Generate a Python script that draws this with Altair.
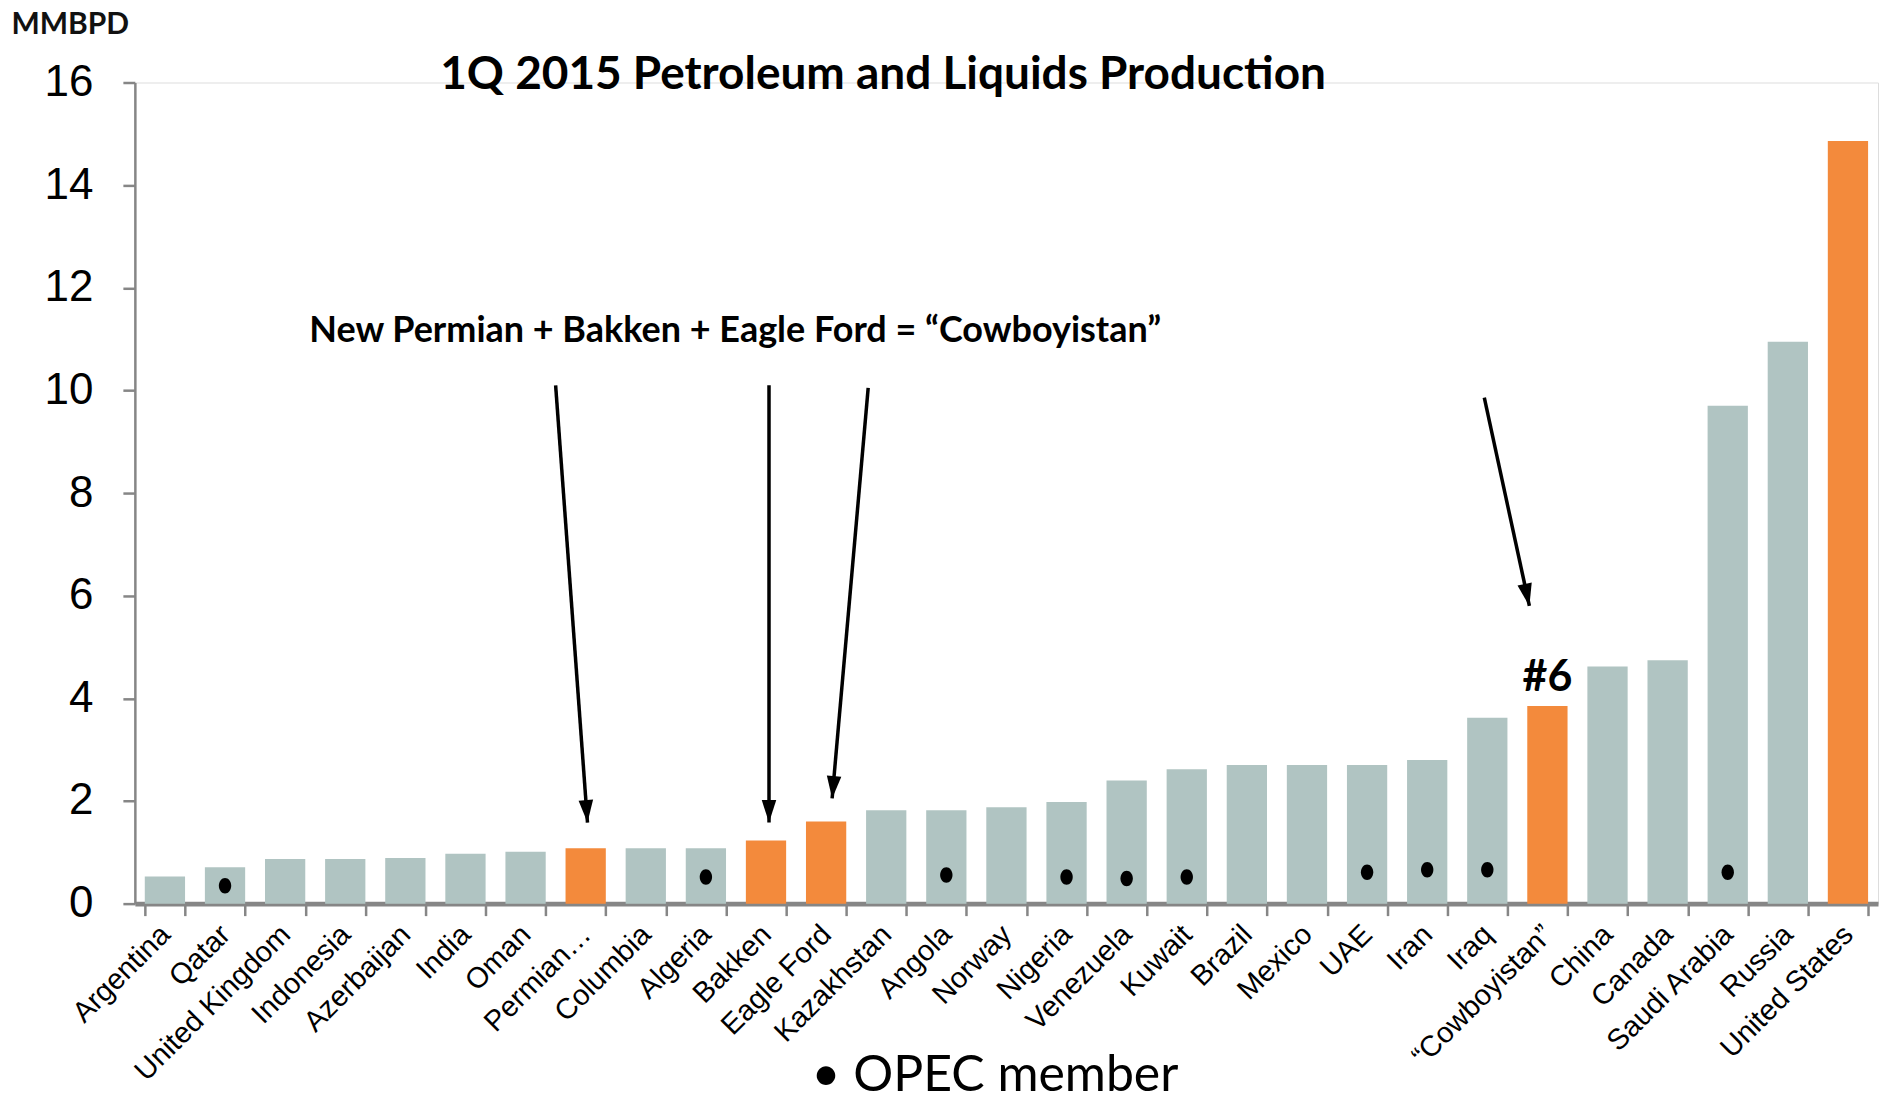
import math
import altair as alt
import pandas as pd

categories = ["Argentina", "Qatar", "United Kingdom", "Indonesia", "Azerbaijan", "India", "Oman",
              "Permian…", "Columbia", "Algeria", "Bakken", "Eagle Ford", "Kazakhstan", "Angola",
              "Norway", "Nigeria", "Venezuela", "Kuwait", "Brazil", "Mexico", "UAE", "Iran", "Iraq",
              "“Cowboyistan”", "China", "Canada", "Saudi Arabia", "Russia", "United States"]
values = [0.53, 0.71, 0.87, 0.87, 0.89, 0.97, 1.01, 1.08, 1.08, 1.08, 1.23, 1.60, 1.82, 1.82,
          1.88, 1.98, 2.40, 2.62, 2.70, 2.70, 2.70, 2.80, 3.62, 3.85, 4.62, 4.74, 9.70, 10.95, 14.86]
highlight = ["Permian…", "Bakken", "Eagle Ford", "“Cowboyistan”", "United States"]

opec_members = ["Qatar", "Algeria", "Angola", "Nigeria", "Venezuela", "Kuwait", "UAE", "Iran",
                "Iraq", "Saudi Arabia"]
opec_dot_y = [0.35, 0.52, 0.56, 0.52, 0.49, 0.52, 0.61, 0.66, 0.66, 0.61]

# arrows, in category-index units (band i centre = i + 0.5) and MMBPD
arrow_x0 = [7.0, 10.55, 12.2, 22.45]
arrow_y0 = [10.1, 10.1, 10.05, 9.86]
arrow_x1 = [7.53, 10.55, 11.6, 23.2]
arrow_y1 = [1.58, 1.58, 2.05, 5.8]

rank_label = "#6"
rank_category = "“Cowboyistan”"

W, H = 1745, 822
N = len(categories)
YMAX = 16

GRAY = "#B0C4C2"
ORANGE = "#F38A3C"
AXIS = "#868686"

bars = pd.DataFrame({"country": categories, "value": values,
                     "group": ["hl" if c in highlight else "base" for c in categories]})
dots = pd.DataFrame({"country": opec_members, "y": opec_dot_y})

# arrowhead orientation from line direction in pixel space
px_x = W / N
px_y = H / YMAX
angles = []
for x0, y0, x1, y1 in zip(arrow_x0, arrow_y0, arrow_x1, arrow_y1):
    dx = (x1 - x0) * px_x
    dy = (y0 - y1) * px_y
    angles.append((-math.degrees(math.atan2(dx, dy))) % 360)
arrows = pd.DataFrame({"x0": arrow_x0, "y0": arrow_y0, "x1": arrow_x1, "y1": arrow_y1,
                       "angle": angles})
rank = pd.DataFrame({"country": [rank_category], "label": [rank_label],
                     "value": [values[categories.index(rank_category)]]})

xband = alt.X("country:N", sort=categories, title=None,
              scale=alt.Scale(paddingInner=0.33, paddingOuter=0.165),
              axis=alt.Axis(labelAngle=-45, labelAlign="right", labelBaseline="middle",
                            labelFont="Liberation Sans", labelFontSize=29, labelColor="#000",
                            labelPadding=14, labelOverlap=False, labelLimit=400,
                            domainColor=AXIS, domainWidth=5, tickColor=AXIS, tickWidth=2.5,
                            tickSize=12, tickBand="extent", grid=False))
yscale = alt.Scale(domain=[0, YMAX], nice=False, zero=True)

bar_layer = alt.Chart(bars).mark_bar().encode(
    x=xband,
    y=alt.Y("value:Q", scale=yscale,
            axis=alt.Axis(values=list(range(0, 17, 2)), title="MMBPD", titleAngle=0,
                          titleAlign="left", titleBaseline="top", titleX=-124, titleY=-73,
                          titleFont="Lato", titleFontSize=30, titleFontWeight="bold",
                          titleColor="#111", labelFont="Liberation Sans", labelFontSize=44,
                          labelColor="#000", labelPadding=30, domainColor=AXIS, domainWidth=2.5,
                          tickColor=AXIS, tickWidth=2.5, tickSize=12, grid=False)),
    color=alt.Color("group:N", scale=alt.Scale(domain=["base", "hl"], range=[GRAY, ORANGE]),
                    legend=None),
)

dot_layer = alt.Chart(dots).mark_point(
    filled=True, color="#000", opacity=1, size=240,
    shape="M0,-1A0.8,1,0,1,1,0,1A0.8,1,0,1,1,0,-1Z",
).encode(x=alt.X("country:N", sort=categories), y=alt.Y("y:Q", scale=yscale))

rank_layer = alt.Chart(rank).mark_text(
    font="Lato", fontSize=43, fontWeight="bold", color="#000", baseline="bottom", dy=-6,
).encode(x=alt.X("country:N", sort=categories), y=alt.Y("value:Q", scale=yscale), text="label:N")

band_chart = alt.layer(bar_layer, dot_layer, rank_layer)

xq = alt.X("x0:Q", scale=alt.Scale(domain=[0, N], nice=False, zero=False), axis=None)
arrow_lines = alt.Chart(arrows).mark_rule(color="#000", strokeWidth=3.5).encode(
    x=xq, y=alt.Y("y0:Q", scale=yscale), x2="x1:Q", y2="y1:Q")
arrow_heads = alt.Chart(arrows).mark_point(
    shape="M0,0L-0.55,-1.7L0.55,-1.7Z", filled=True, color="#000", opacity=1, size=700,
).encode(x=alt.X("x1:Q", scale=alt.Scale(domain=[0, N], nice=False, zero=False), axis=None),
         y=alt.Y("y1:Q", scale=yscale), angle=alt.Angle("angle:Q", scale=None))
arrow_chart = alt.layer(arrow_lines, arrow_heads)

title_text = alt.Chart(pd.DataFrame({"t": ["1Q 2015 Petroleum and Liquids Production"]})).mark_text(
    font="Lato", fontSize=46, fontWeight="bold", color="#000", align="center", baseline="middle",
).encode(x=alt.value(749), y=alt.value(-7), text="t:N")

note_text = alt.Chart(pd.DataFrame({"t": ["New Permian + Bakken + Eagle Ford = “Cowboyistan”"]})).mark_text(
    font="Lato", fontSize=36, fontWeight="bold", color="#000", align="center", baseline="middle",
).encode(x=alt.value(601), y=alt.value(249), text="t:N")

legend_text = alt.Chart(pd.DataFrame({"t": ["• OPEC member"]})).mark_text(
    font="Lato", fontSize=50, color="#000", align="center", baseline="alphabetic",
).encode(x=alt.value(861), y=alt.value(1010), text="t:N")

chart = alt.layer(band_chart, arrow_chart, title_text, note_text, legend_text).resolve_scale(
    x="independent"
).properties(
    width=W, height=H,
    autosize=alt.AutoSizeParams(type="none"),
    padding={"left": 127, "top": 74, "right": 2, "bottom": 198},
).configure_view(stroke=None).configure(background="#ffffff")

chart.save("out.html", embed_options={"renderer": "svg", "actions": False})
